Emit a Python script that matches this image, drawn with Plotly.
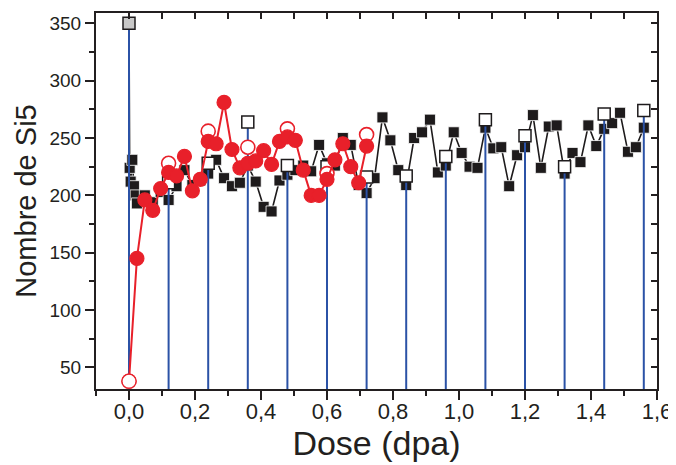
import plotly.graph_objects as go

# ---------------- data ----------------
# black squares series (Dose, Nombre de Si5)
black_x = [0, 0.002, 0.005, 0.010, 0.015, 0.020, 0.024,
           0.048, 0.072, 0.096, 0.120, 0.144, 0.168, 0.192, 0.216, 0.240, 0.264,
           0.288, 0.312, 0.336, 0.360, 0.384, 0.408, 0.432, 0.456, 0.480, 0.504,
           0.528, 0.552, 0.576, 0.600, 0.624, 0.648, 0.672, 0.696, 0.720, 0.744,
           0.768, 0.792, 0.816, 0.840, 0.864, 0.888, 0.912, 0.936, 0.960, 0.984,
           1.008, 1.032, 1.056, 1.080, 1.104, 1.128, 1.152, 1.176, 1.200, 1.224,
           1.248, 1.272, 1.296, 1.320, 1.344, 1.368, 1.392, 1.416, 1.440, 1.464,
           1.488, 1.512, 1.536, 1.560]
black_y = [350, 224, 212, 231, 208, 200, 193,
           200, 194, 203, 196, 208, 222, 209, 213, 219, 231,
           215, 208, 211, 226, 212, 190, 186, 213, 218, 222,
           226, 221, 244, 228, 226, 250, 244, 209, 202, 215,
           268, 248, 222, 209, 250, 255, 266, 220, 226, 255,
           237, 225, 224, 259, 241, 242, 208, 235, 242, 270,
           224, 260, 261, 219, 237, 229, 261, 243, 258, 263,
           272, 238, 242, 259]

# open squares with drop lines (every 0.12 dpa)
open_sq_x = [0.0, 0.12, 0.24, 0.36, 0.48, 0.60, 0.72, 0.84, 0.96, 1.08, 1.20, 1.32, 1.44, 1.56]
open_sq_y = [350, 211, 228, 264, 226, 225, 216, 217, 234, 266, 252, 225, 271, 274]

# red circles series
red_x = [0.0, 0.024, 0.048, 0.072, 0.096, 0.120, 0.144, 0.168, 0.192, 0.216,
         0.240, 0.264, 0.288, 0.312, 0.336, 0.360, 0.384, 0.408, 0.432, 0.456,
         0.480, 0.504, 0.528, 0.552, 0.576, 0.600, 0.624, 0.648, 0.672, 0.696, 0.720]
red_y = [38, 145, 196, 187, 206, 220, 217, 234, 204, 214,
         247, 245, 281, 240, 224, 228, 230, 239, 227, 247,
         251, 248, 222, 200, 200, 214, 231, 245, 225, 211, 243]

# open red circles (every 0.12 dpa)
open_red_x = [0.0, 0.12, 0.24, 0.36, 0.48, 0.60, 0.72]
open_red_y = [38, 228, 256, 242, 258, 219, 253]

x_ticks = [0.0, 0.2, 0.4, 0.6, 0.8, 1.0, 1.2, 1.4, 1.6]
y_ticks = [50, 100, 150, 200, 250, 300, 350]

X_RANGE = [-0.1, 1.6]
Y_RANGE = [31.2, 359]

RED = "#e8202a"
BLUE = "#2b52a6"
BLACK = "#1e1b1c"
AXIS = "#231f20"
FONT = "Liberation Sans, Arial, sans-serif"

fig = go.Figure()

# black series
fig.add_trace(go.Scatter(
    x=black_x, y=black_y, mode="lines+markers",
    line=dict(color=BLACK, width=1.6),
    marker=dict(symbol="square", size=11, color=BLACK,
                line=dict(color="white", width=0.8)),
    showlegend=False, cliponaxis=False))

# blue drop lines built from the open-square data
drop_x, drop_y = [], []
for xv, yv in zip(open_sq_x, open_sq_y):
    drop_x += [xv, xv, None]
    drop_y += [Y_RANGE[0], yv, None]
fig.add_trace(go.Scatter(
    x=drop_x, y=drop_y, mode="lines",
    line=dict(color=BLUE, width=2), showlegend=False))

# open squares (first one grey)
sq_fill = ["#c8c8c8"] + ["white"] * (len(open_sq_x) - 1)
fig.add_trace(go.Scatter(
    x=open_sq_x, y=open_sq_y, mode="markers",
    marker=dict(symbol="square", size=12, color=sq_fill,
                line=dict(color=BLACK, width=1.5)),
    showlegend=False, cliponaxis=False))

# open red circles
fig.add_trace(go.Scatter(
    x=open_red_x, y=open_red_y, mode="markers",
    marker=dict(symbol="circle", size=14, color="white",
                line=dict(color=RED, width=1.6)),
    showlegend=False, cliponaxis=False))

# red series (first point open)
red_fill = ["white"] + [RED] * (len(red_x) - 1)
fig.add_trace(go.Scatter(
    x=red_x, y=red_y, mode="lines+markers",
    line=dict(color=RED, width=2),
    marker=dict(symbol="circle", size=14, color=red_fill,
                line=dict(color=RED, width=1.2)),
    showlegend=False, cliponaxis=False))

# dummy trace for mirrored (inward tick) axes
fig.add_trace(go.Scatter(x=[None], y=[None], xaxis="x2", yaxis="y2",
                         showlegend=False, hoverinfo="skip"))

# page body has an 8 px default margin: margins compensate for it
fig.update_layout(
    width=676, height=465,
    margin=dict(l=88, r=27, t=5, b=84, autoexpand=False),
    paper_bgcolor="white", plot_bgcolor="white",
    separators=", ",
    font=dict(family=FONT, color=AXIS),
    xaxis=dict(
        range=X_RANGE, showgrid=False, zeroline=False, automargin=False,
        showline=True, linecolor=AXIS, linewidth=2,
        tickmode="array", tickvals=x_ticks,
        ticktext=[f"{v:.1f}".replace(".", ",") for v in x_ticks],
        ticks="outside", ticklen=9, tickwidth=1.5, tickcolor=AXIS,
        ticklabelstandoff=-7,
        minor=dict(dtick=0.1, tick0=0, ticks="outside", ticklen=5,
                   tickwidth=1.5, tickcolor=AXIS, showgrid=False),
        tickfont=dict(size=22, family=FONT, color=AXIS),
        title=dict(text="Dose (dpa)", font=dict(size=34, family=FONT, color=AXIS),
                   standoff=4),
    ),
    yaxis=dict(
        range=Y_RANGE, showgrid=False, zeroline=False, automargin=False,
        showline=True, linecolor=AXIS, linewidth=2,
        tickmode="array", tickvals=y_ticks,
        ticks="outside", ticklen=9, tickwidth=1.5, tickcolor=AXIS,
        minor=dict(dtick=25, tick0=0, ticks="outside", ticklen=5,
                   tickwidth=1.5, tickcolor=AXIS, showgrid=False),
        tickfont=dict(size=19, family=FONT, color=AXIS),
        title=dict(text="Nombre de Si5", font=dict(size=29, family=FONT, color=AXIS),
                   standoff=4),
    ),
    xaxis2=dict(
        overlaying="x", side="top", range=X_RANGE, showgrid=False, zeroline=False,
        automargin=False,
        showline=True, linecolor=AXIS, linewidth=2,
        showticklabels=False, dtick=0.1, tick0=0,
        ticks="inside", ticklen=6, tickwidth=1.5, tickcolor=AXIS),
    yaxis2=dict(
        overlaying="y", side="right", range=Y_RANGE, showgrid=False, zeroline=False,
        automargin=False,
        showline=True, linecolor=AXIS, linewidth=2,
        showticklabels=False, dtick=25, tick0=0,
        ticks="inside", ticklen=6, tickwidth=1.5, tickcolor=AXIS),
)

fig.write_html("out.html")
